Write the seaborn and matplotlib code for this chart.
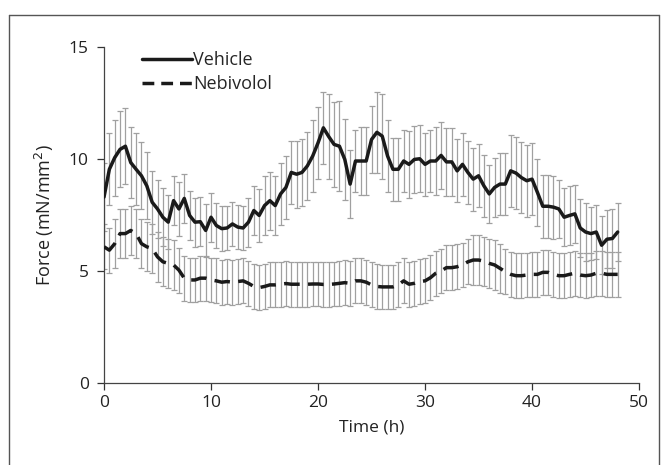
import numpy as np
import pandas as pd
import matplotlib
matplotlib.use("Agg")
import matplotlib.pyplot as plt
import seaborn as sns
from matplotlib.lines import Line2D

time_h = [i * 0.5 for i in range(97)]

vehicle = [8.3, 9.54, 10.06, 10.43, 10.57, 9.84, 9.54, 9.25, 8.8, 8.07,
           7.77, 7.4, 7.18, 8.14, 7.77, 8.24, 7.48, 7.18, 7.2, 6.81,
           7.4, 7.03, 6.89, 6.92, 7.1, 6.96, 6.92, 7.18, 7.7, 7.48,
           7.92, 8.14, 7.92, 8.44, 8.73, 9.4, 9.32, 9.4, 9.69, 10.13,
           10.72, 11.39, 11.0, 10.65, 10.57, 9.98, 8.88, 9.91, 9.91, 9.91,
           10.87, 11.19, 11.02, 10.13, 9.54, 9.54, 9.91, 9.76, 9.98, 10.01,
           9.76, 9.91, 9.91, 10.16, 9.87, 9.87, 9.47, 9.76, 9.4, 9.1,
           9.25, 8.8, 8.44, 8.73, 8.88, 8.88, 9.47, 9.37, 9.17, 9.03,
           9.1, 8.51, 7.89, 7.89, 7.85, 7.77, 7.4, 7.48, 7.55, 6.92,
           6.74, 6.67, 6.74, 6.15, 6.42, 6.45, 6.74]

vehicle_se = [1.5, 1.6, 1.7, 1.7, 1.7, 1.6, 1.6, 1.5, 1.5, 1.4,
              1.3, 1.3, 1.2, 1.1, 1.2, 1.1, 1.1, 1.1, 1.1, 1.2,
              1.1, 1.0, 1.0, 1.0, 1.0, 1.0, 1.0, 1.1, 1.1, 1.2,
              1.3, 1.3, 1.3, 1.4, 1.4, 1.4, 1.5, 1.5, 1.5, 1.6,
              1.6, 1.6, 1.9, 1.9, 2.0, 1.8, 1.5, 1.4, 1.5, 1.5,
              1.5, 1.8, 1.9, 1.6, 1.4, 1.4, 1.4, 1.5, 1.5, 1.5,
              1.4, 1.4, 1.5, 1.5, 1.5, 1.5, 1.4, 1.4, 1.4, 1.4,
              1.4, 1.4, 1.3, 1.3, 1.4, 1.4, 1.6, 1.6, 1.6, 1.6,
              1.6, 1.5, 1.4, 1.4, 1.4, 1.3, 1.3, 1.3, 1.3, 1.3,
              1.3, 1.2, 1.2, 1.3, 1.3, 1.3, 1.3]

nebivolol = [6.08, 5.93, 6.22, 6.67, 6.67, 6.81, 6.67, 6.22, 6.08, 6.0,
             5.63, 5.41, 5.34, 5.27, 5.04, 4.68, 4.6, 4.6, 4.68, 4.68,
             4.6, 4.56, 4.5, 4.53, 4.5, 4.53, 4.56, 4.45, 4.31, 4.26,
             4.31, 4.38, 4.38, 4.41, 4.44, 4.41, 4.41, 4.41, 4.41, 4.42,
             4.42, 4.4, 4.4, 4.42, 4.45, 4.48, 4.45, 4.56, 4.56, 4.5,
             4.38, 4.31, 4.29, 4.29, 4.29, 4.38, 4.56, 4.41, 4.45, 4.53,
             4.56, 4.7, 4.9, 5.0, 5.15, 5.15, 5.19, 5.27, 5.41, 5.49,
             5.49, 5.44, 5.34, 5.27, 5.12, 4.97, 4.85, 4.79, 4.79, 4.82,
             4.85, 4.85, 4.94, 4.94, 4.85, 4.79, 4.79, 4.85, 4.9, 4.82,
             4.79, 4.82, 4.9, 4.9, 4.85, 4.85, 4.85]

nebivolol_se = [1.0, 1.0, 1.1, 1.1, 1.1, 1.1, 1.1, 1.1, 1.1, 1.1,
                1.1, 1.1, 1.1, 1.1, 1.0, 1.0, 1.0, 1.0, 1.0, 1.0,
                1.0, 1.0, 1.0, 1.0, 1.0, 1.0, 1.0, 1.0, 1.0, 1.0,
                1.0, 1.0, 1.0, 1.0, 1.0, 1.0, 1.0, 1.0, 1.0, 1.0,
                1.0, 1.0, 1.0, 1.0, 1.0, 1.0, 1.0, 1.0, 1.0, 1.0,
                1.0, 1.0, 1.0, 1.0, 1.0, 1.0, 1.0, 1.0, 1.0, 1.0,
                1.0, 1.0, 1.0, 1.0, 1.0, 1.0, 1.0, 1.0, 1.0, 1.1,
                1.1, 1.1, 1.1, 1.1, 1.1, 1.0, 1.0, 1.0, 1.0, 1.0,
                1.0, 1.0, 1.0, 1.0, 1.0, 1.0, 1.0, 1.0, 1.0, 1.0,
                1.0, 1.0, 1.0, 1.0, 1.0, 1.0, 1.0]

sns.set_style("white")
plt.rcParams["font.family"] = ["Open Sans", "DejaVu Sans"]

df = pd.DataFrame({
    "Time": time_h * 2,
    "Force": vehicle + nebivolol,
    "SE": vehicle_se + nebivolol_se,
    "Group": ["Vehicle"] * len(time_h) + ["Nebivolol"] * len(time_h),
})

fig = plt.figure(figsize=(6.68, 4.65), dpi=100)
ax = fig.add_axes([0.1557, 0.1763, 0.801, 0.7227])

for grp in ["Vehicle", "Nebivolol"]:
    d = df[df["Group"] == grp]
    ax.errorbar(d["Time"], d["Force"], yerr=d["SE"], fmt="none",
                ecolor="#a0a0a0", elinewidth=0.9, capsize=2.2, capthick=0.9,
                zorder=2)

sns.lineplot(data=df, x="Time", y="Force", style="Group",
             dashes={"Vehicle": "", "Nebivolol": (4.5, 2.4)},
             color="#1a1a1a", linewidth=2.5, ax=ax, legend=False, zorder=3)

ax.set_xlim(0, 50)
ax.set_ylim(0, 15)
ax.set_xticks([0, 10, 20, 30, 40, 50])
ax.set_yticks([0, 5, 10, 15])
ax.set_xlabel("Time (h)", fontsize=12.5, color="#222222", labelpad=6)
ax.set_ylabel("Force (mN/mm$^2$)", fontsize=13, color="#222222", labelpad=9)
ax.tick_params(axis="both", direction="out", length=5, width=0.9,
               colors="#333333", labelsize=12.5, labelcolor="#222222",
               bottom=True, left=True)
ax.tick_params(axis="y", pad=6)
for side in ["top", "right"]:
    ax.spines[side].set_visible(False)
for side in ["left", "bottom"]:
    ax.spines[side].set_color("#444444")
    ax.spines[side].set_linewidth(0.9)

handles = [Line2D([], [], color="#1a1a1a", lw=2.5),
           Line2D([], [], color="#1a1a1a", lw=2.5, dashes=(3.4, 2.0))]
ax.legend(handles, ["Vehicle", "Nebivolol"], loc="upper left",
          bbox_to_anchor=(0.04, 1.035), frameon=False, handlelength=2.8,
          handletextpad=0.05, labelspacing=0.3, fontsize=13)

# outer frame
fc = "#555555"
fig.add_artist(Line2D([0.0135, 0.9865], [0.968, 0.968], color=fc, lw=1.0))
fig.add_artist(Line2D([0.0135, 0.0135], [0.968, -0.01], color=fc, lw=1.0))
fig.add_artist(Line2D([0.9865, 0.9865], [0.968, -0.01], color=fc, lw=1.0))

fig.savefig("out.png", dpi=100)
